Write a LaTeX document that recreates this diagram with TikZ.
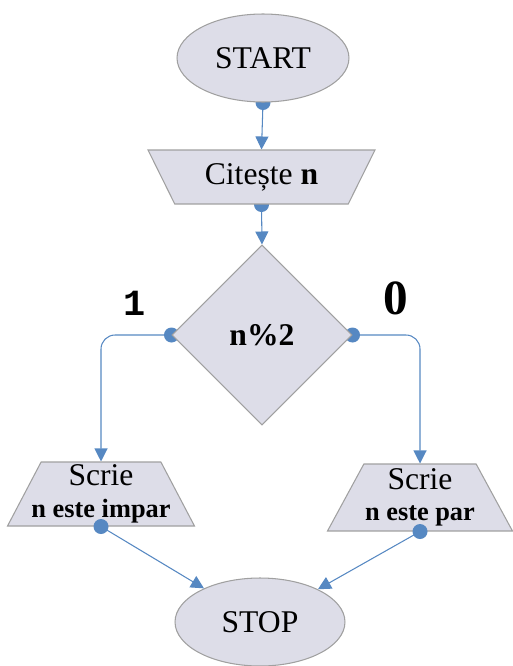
\documentclass[tikz,border=0pt]{standalone}
\usepackage{fontspec}
\setmainfont{Liberation Serif}
\newfontfamily\monofnt{Liberation Mono}
\usetikzlibrary{arrows.meta,shapes.geometric,positioning,backgrounds}

\definecolor{boxfill}{RGB}{221,221,232}
\definecolor{boxline}{RGB}{160,160,160}
\definecolor{flowblue}{RGB}{86,136,194}

\tikzset{
  box/.style={draw=boxline,fill=boxfill,line width=0.6pt,inner sep=0pt,font=\fontsize{18}{18}\selectfont},
  term/.style={box,ellipse},
  io/.style={box,trapezium,trapezium stretches body=true},
  flow/.style={draw=flowblue,line width=0.6pt,-{Triangle[length=7.4pt,width=7.4pt]}},
  knob/.style={fill=flowblue}
}
\newcommand\outline[2]{\makebox[2.2cm]{#1}\\\makebox[2.2cm]{\fontsize{15}{15}\selectfont\bfseries #2}}

\begin{document}
\begin{tikzpicture}[x=0.02cm,y=-0.02cm]
        \useasboundingbox (0,0) rectangle (513,666);
        \node[term,minimum width=3.44cm,minimum height=1.76cm] (start) at (263,58) {START};
        \node[io,shape border rotate=180,trapezium angle=46,minimum width=4.54cm,minimum height=1.08cm] (read) at (261.5,177) {Citește \textbf{n}};
        \node[box,diamond,minimum width=3.6cm,minimum height=3.6cm,font=\fontsize{18}{18}\selectfont\bfseries] (cond) at (262,335) {n\%2};
        \node[io,trapezium angle=60,minimum width=3.74cm,minimum height=1.28cm,align=center] (impar) at (101,494) {\outline{Scrie}{n este impar}};
        \node[io,trapezium angle=58,minimum width=3.7cm,minimum height=1.34cm,align=center] (par) at (420,497.5) {\outline{Scrie}{n este par}};
        \node[term,minimum width=3.4cm,minimum height=1.76cm] (stop) at (260,622) {STOP};
        \node[font=\fontsize{21}{21}\selectfont\monofnt\bfseries] (one) at (135,303) {1};
        \node[font=\fontsize{28}{28}\selectfont\bfseries] (zero) at (396,298) {0};
        \begin{scope}[on background layer]
                \draw[flow] (start.south) -- (read.north);
                \draw[flow] (read.south) -- (cond.north);
                \draw[flow,rounded corners=8] (cond.west) -| (impar.north);
                \draw[flow,rounded corners=8] (cond.east) -| (par.north);
                \fill[knob] (start.south) circle[radius=7.5];
                \fill[knob] (read.south) circle[radius=7.5];
                \fill[knob] (cond.west) circle[radius=7.5];
                \fill[knob] (cond.east) circle[radius=7.5];
        \end{scope}
        \draw[flow] (impar.south) -- (stop);
        \draw[flow] (par.south) -- (stop);
        \fill[knob] (impar.south) circle[radius=7.5];
        \fill[knob] (par.south) circle[radius=7.5];
\end{tikzpicture}
\end{document}
